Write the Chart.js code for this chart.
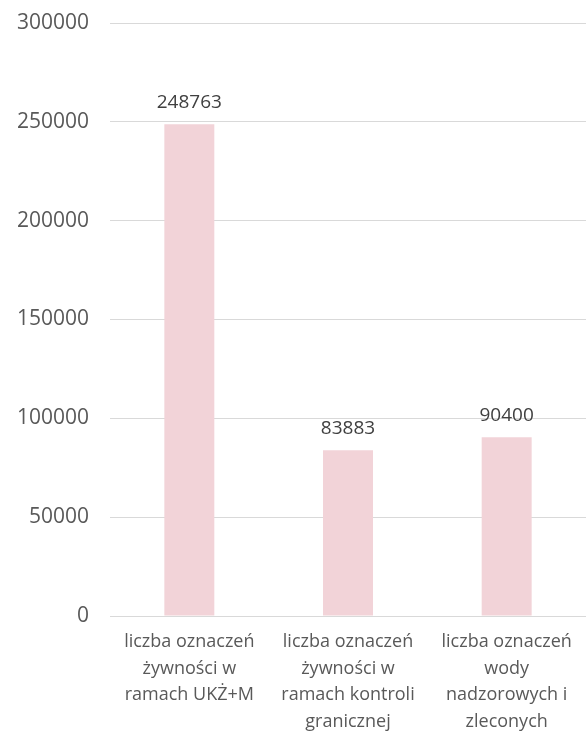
<!DOCTYPE html>
<html>
<head>
<meta charset="utf-8">
<script src="https://cdn.jsdelivr.net/npm/chart.js@4"></script>
<style>
  html, body { margin: 0; padding: 0; background: #fff; }
  #wrap { width: 586px; height: 731px; }
</style>
</head>
<body>
<div id="wrap"><canvas id="chart"></canvas></div>
<script>
const categories = [
  ["liczba oznaczeń", "żywności w", "ramach UKŻ+M"],
  ["liczba oznaczeń", "żywności w", "ramach kontroli", "granicznej"],
  ["liczba oznaczeń", "wody", "nadzorowych i", "zleconych"],
];
const values = [248763, 83883, 90400];
const yTicks = [0, 50000, 100000, 150000, 200000, 250000, 300000];

const textColor = "#595959";
const fontFamily = "'Open Sans', 'Liberation Sans', sans-serif";

const valueLabels = {
  id: "valueLabels",
  afterDatasetsDraw(chart) {
    const ctx = chart.ctx;
    const meta = chart.getDatasetMeta(0);
    ctx.save();
    ctx.fillStyle = "#404040";
    ctx.font = "19px " + fontFamily;
    ctx.textAlign = "center";
    ctx.textBaseline = "middle";
    meta.data.forEach((bar, i) => {
      ctx.fillText(String(values[i]), bar.x, bar.y - 22);
    });
    ctx.restore();
  },
};

const chartConfig = {
  type: "bar",
  data: {
    labels: categories,
    datasets: [
      {
        data: values,
        backgroundColor: "#F2D3D8",
        borderWidth: 0,
        categoryPercentage: 1,
        barPercentage: 0.315,
      },
    ],
  },
  options: {
    responsive: true,
    maintainAspectRatio: false,
    animation: false,
    layout: { padding: { top: 23, right: 0, left: 0, bottom: 0 } },
    plugins: {
      legend: { display: false },
      tooltip: { enabled: false },
    },
    scales: {
      x: {
        grid: { display: false },
        border: { color: "#D9D9D9", width: 1 },
        ticks: {
          color: textColor,
          font: { family: fontFamily, size: 18, lineHeight: 1.47 },
          autoSkip: false,
          maxRotation: 0,
          padding: 5,
        },
        afterFit(scale) {
          scale.height = 115;
          scale.paddingLeft = 0;
          scale.paddingRight = 0;
        },
      },
      y: {
        min: 0,
        max: 300000,
        afterBuildTicks(scale) {
          scale.ticks = yTicks.map((v) => ({ value: v }));
        },
        grid: { color: "#D9D9D9", lineWidth: 1, drawTicks: false },
        border: { display: false },
        ticks: {
          color: textColor,
          font: { family: fontFamily, size: 21 },
          padding: 21,
          callback: (v) => String(v),
        },
        afterFit(scale) {
          scale.width = 110;
          scale.paddingTop = 0;
          scale.paddingBottom = 0;
        },
      },
    },
  },
  plugins: [valueLabels],
};

const chart = new Chart(document.getElementById("chart"), chartConfig);
</script>
</body>
</html>
